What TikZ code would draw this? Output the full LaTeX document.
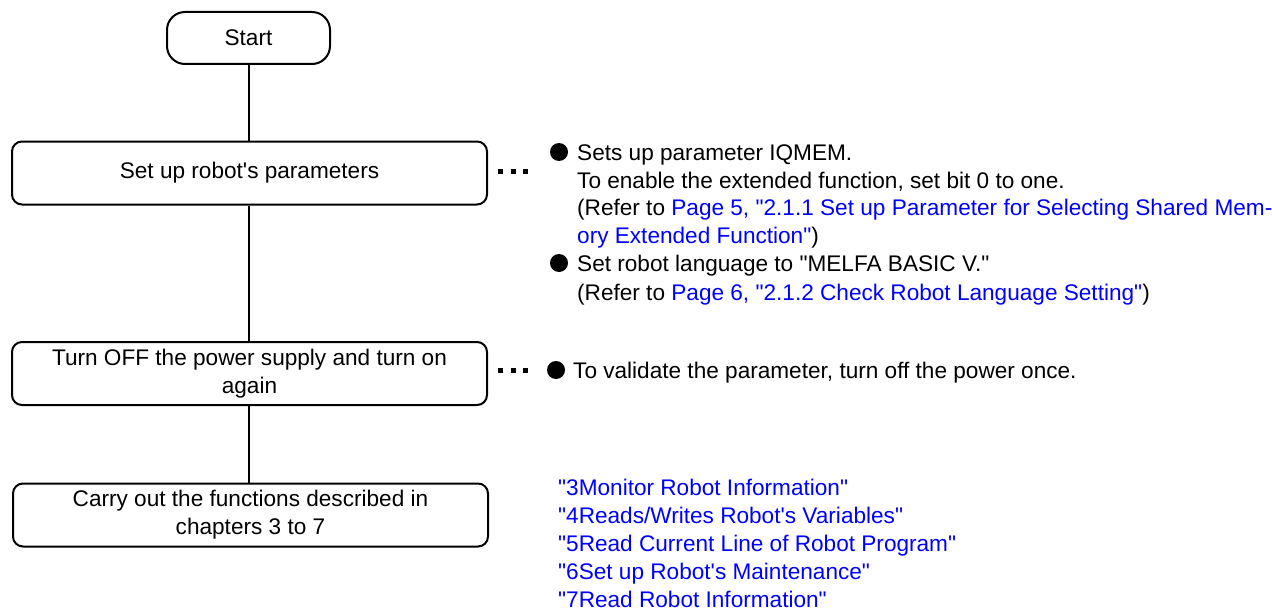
\documentclass[tikz,border=0pt]{standalone}
\usepackage{fontspec}
\setmainfont{Liberation Sans}[Ligatures=TeXOff]
\usetikzlibrary{calc}
\definecolor{linkblue}{RGB}{0,0,255}
\tikzset{
  txt/.style={font=\fontsize{22.6}{28}\selectfont},
  stepbox/.style={draw, line width=2pt, rounded corners=10pt, minimum width=475pt, minimum height=63pt, align=center, inner sep=0pt, txt},
  startbox/.style={draw, line width=2pt, rounded corners=18pt, minimum width=163pt, minimum height=52pt, inner sep=0pt, txt},
  conn/.style={line width=2pt},
  dotsq/.style={line width=5pt, dash pattern=on 5pt off 7.5pt},
  ann/.style={anchor=base west, inner sep=0pt, txt},
  bul/.style={fill=black},
  lnk/.style={ann, text=linkblue}
}
\begin{document}
\begin{tikzpicture}[x=1pt, y=-1pt]
\useasboundingbox (0,0) rectangle (1272,610);
% flow
\node[startbox] (start) at (248.5,38) {Start};
\node[stepbox] (b1) at (249.5,173) {Set up robot's parameters};
\node[stepbox] (b2) at (249.5,373.5) {Turn OFF the power supply and turn on\\again};
\node[stepbox] (b3) at (250.5,515) {Carry out the functions described in\\chapters 3 to 7};
\draw[conn] (start.south) -- (start.south |- b1.north);
\draw[conn] (b1.south -| start.south) -- (start.south |- b2.north);
\draw[conn] (b2.south -| start.south) -- (start.south |- b3.north);
% dots
\coordinate (d1) at ($(b1.east)+(10,-2)$);
\coordinate (d2) at ($(b2.east)+(10,-3.5)$);
\draw[dotsq] (d1) -- ++(31,0);
\draw[dotsq] (d2) -- ++(31,0);
% annotation 1
\fill[bul] (559,152) circle (9);
\node[ann] (a11) at (577,160) {Sets up parameter IQMEM.};
\node[ann] (a12) at (577,188) {To enable the extended function, set bit 0 to one.};
\node[ann] (a13) at (577,215) {(Refer to \textcolor{linkblue}{Page 5, "2.1.1 Set up Parameter for Selecting Shared Mem-}};
\node[ann] (a14) at (577,243) {\textcolor{linkblue}{ory Extended Function"})};
\fill[bul] (559,263) circle (9);
\node[ann] (a15) at (577,271) {Set robot language to "MELFA BASIC V."};
\node[ann] (a16) at (577,300) {(Refer to \textcolor{linkblue}{Page 6, "2.1.2 Check Robot Language Setting"})};
% annotation 2
\fill[bul] (556,370) circle (9);
\node[ann] (a21) at (573,378) {To validate the parameter, turn off the power once.};
% chapter list
\node[lnk] (c3) at (558,495) {"3Monitor Robot Information"};
\node[lnk] (c4) at (558,523) {"4Reads/Writes Robot's Variables"};
\node[lnk] (c5) at (558,551) {"5Read Current Line of Robot Program"};
\node[lnk] (c6) at (558,579) {"6Set up Robot's Maintenance"};
\node[lnk] (c7) at (558,607) {"7Read Robot Information"};
\end{tikzpicture}
\end{document}
